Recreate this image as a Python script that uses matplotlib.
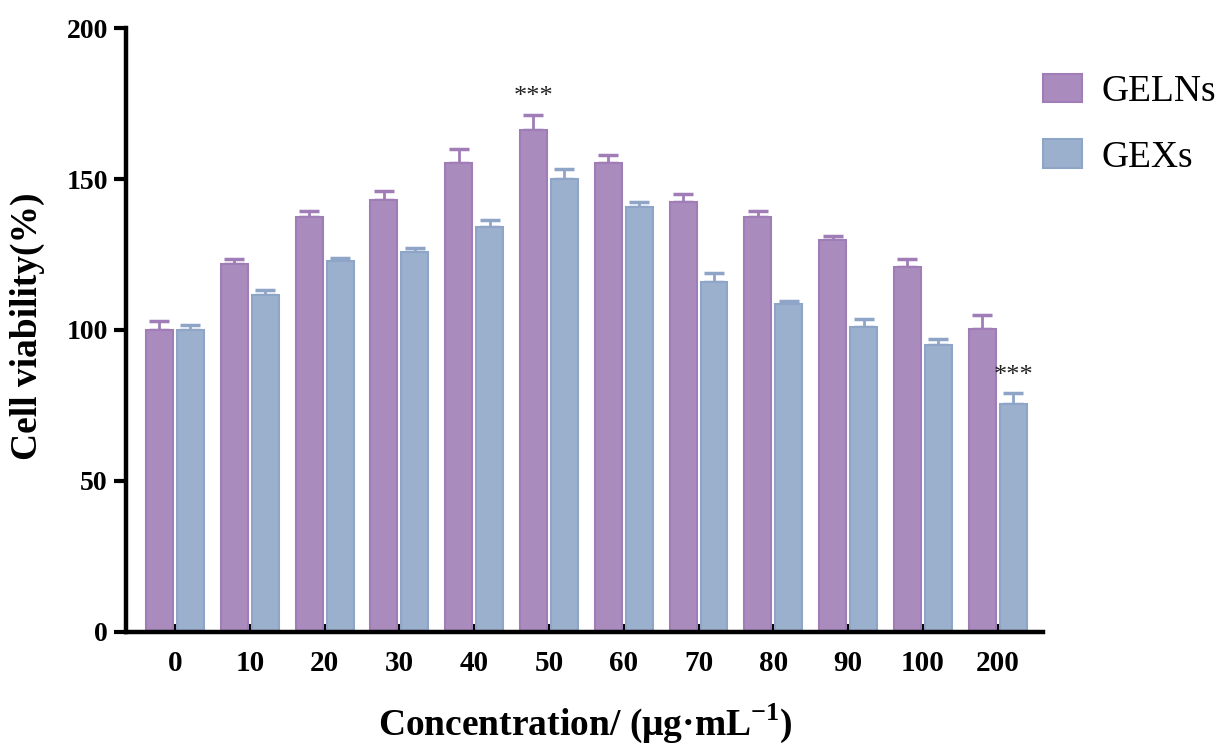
import numpy as np
import matplotlib
matplotlib.use("Agg")
import matplotlib.pyplot as plt
from matplotlib.patches import Patch

plt.rcParams['font.family'] = ['Liberation Serif', 'DejaVu Serif']
plt.rcParams['mathtext.fontset'] = 'custom'
plt.rcParams['mathtext.rm'] = 'Liberation Serif:bold'
plt.rcParams['mathtext.bf'] = 'Liberation Serif:bold'

# data
conc = ['0', '10', '20', '30', '40', '50', '60', '70', '80', '90', '100', '200']
geln_mean = [100, 121.7, 137.5, 143.0, 155.2, 166.2, 155.2, 142.3, 137.5, 129.8, 120.9, 100.4]
geln_err = [3.0, 1.9, 1.9, 3.1, 4.8, 5.0, 2.8, 2.6, 2.0, 1.3, 2.6, 4.6]
gex_mean = [100, 111.5, 123.0, 125.7, 134.0, 150.1, 140.6, 115.8, 108.7, 101.1, 95.0, 75.5]
gex_err = [1.7, 1.7, 0.8, 1.6, 2.4, 3.1, 1.9, 3.2, 0.9, 2.4, 1.9, 3.7]

purple = '#a98bbd'
purple_edge = '#a07db6'
blue = '#9bb0cd'
blue_edge = '#8ea5c7'

fig = plt.figure(figsize=(12.28, 7.45), dpi=100)
ax = fig.add_axes([0.1026, 0.1517, 0.7464, 0.8107])

x = np.arange(len(conc))
w = 0.36
off = 0.207

ax.bar(x - off, geln_mean, w, color=purple, edgecolor=purple_edge, linewidth=1.5, zorder=2)
ax.bar(x + off, gex_mean, w, color=blue, edgecolor=blue_edge, linewidth=1.5, zorder=2)
ax.errorbar(x - off, geln_mean, yerr=[np.zeros(len(x)), geln_err], fmt='none',
            ecolor=purple_edge, elinewidth=2, capsize=7, capthick=2.5, zorder=1)
ax.errorbar(x + off, gex_mean, yerr=[np.zeros(len(x)), gex_err], fmt='none',
            ecolor=blue_edge, elinewidth=2, capsize=7, capthick=2.5, zorder=1)

# significance marks: 50 (GELNs) and 200 (GEXs)
ax.text(x[5] - off, geln_mean[5] + geln_err[5] + 6, '***', ha='center', va='center',
        fontsize=19, color='#222222')
ax.text(x[11] + off, gex_mean[11] + gex_err[11] + 5.5, '***', ha='center', va='center',
        fontsize=19, color='#222222')

ax.set_xlim(-0.655, 11.6)
ax.set_ylim(0, 200)
ax.set_yticks([0, 50, 100, 150, 200])
ax.set_xticks(x)
ax.set_xticklabels(conc)

for s in ['top', 'right']:
    ax.spines[s].set_visible(False)
for s in ['left', 'bottom']:
    ax.spines[s].set_linewidth(3.2)

ax.tick_params(axis='y', direction='out', length=9, width=3, pad=4, labelsize=20)
ax.tick_params(axis='x', direction='in', length=6, width=3, pad=13, labelsize=21)
for lab in ax.get_xticklabels() + ax.get_yticklabels():
    lab.set_fontweight('bold')

ax.set_ylabel('Cell viability(%)', fontsize=27, fontweight='bold')
ax.yaxis.set_label_coords(-0.088, 0.507)
ax.set_xlabel('Concentration/ (μg·mL$^{-1}$)', fontsize=27, fontweight='bold')
ax.xaxis.set_label_coords(0.501, -0.115)

handles = [Patch(facecolor=purple, edgecolor=purple_edge, linewidth=1.5, label='GELNs'),
           Patch(facecolor=blue, edgecolor=blue_edge, linewidth=1.5, label='GEXs')]
fig.legend(handles=handles, loc='upper left', bbox_to_anchor=(0.849, 0.901), frameon=False,
           fontsize=27, handlelength=1.04, handleheight=0.8, labelspacing=0.8,
           handletextpad=0.53, borderpad=0, borderaxespad=0)

fig.savefig('out.png', dpi=100)
